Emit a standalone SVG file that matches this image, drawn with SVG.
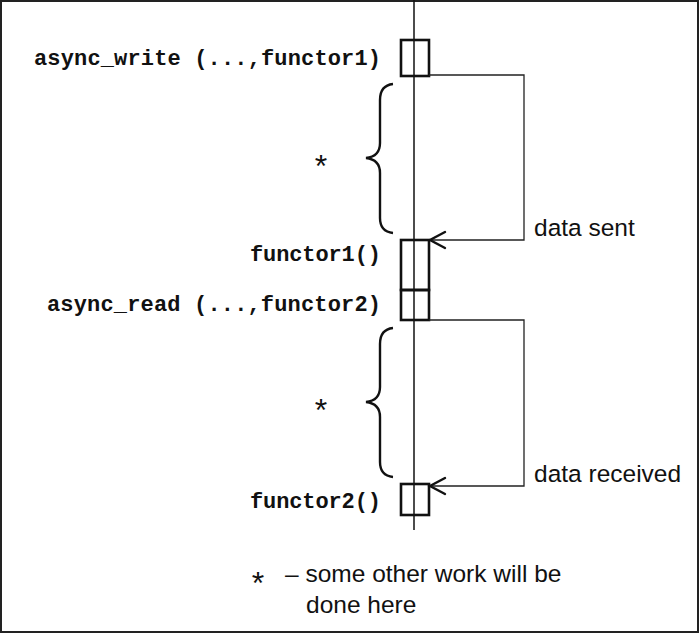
<svg xmlns="http://www.w3.org/2000/svg" width="700" height="634" viewBox="0 0 700 634">
<style>
.code{font-family:"Liberation Mono","Courier New",monospace;font-weight:bold;font-size:22px;fill:#111;text-anchor:end}
.lbl{font-family:"Liberation Sans",Arial,sans-serif;font-size:24.5px;fill:#111}
.star{font-family:"Liberation Sans",Arial,sans-serif;font-size:32px;fill:#111;text-anchor:middle}
.box{fill:none;stroke:#111;stroke-width:2.6}
.conn{fill:none;stroke:#222;stroke-width:1.3}
.head{fill:none;stroke:#111;stroke-width:2.4;stroke-linecap:round;stroke-linejoin:miter}
.brace{fill:none;stroke:#111;stroke-width:2.4}
</style>
<rect x="1" y="1" width="697" height="631" fill="#fff" stroke="#222" stroke-width="2"/>
<g id="timeline">
<line x1="414" y1="0" x2="414" y2="530" stroke="#111" stroke-width="1.5"/>
</g>
<g id="write-call">
<rect class="box" x="401" y="40" width="28" height="36"/>
<text class="code" x="381" y="65" textLength="347" lengthAdjust="spacing">async_write (...,functor1)</text>
</g>
<g id="brace1">
<path class="brace" d="M393,84 C384,85 380,90 380,100 L380,143 C380,152 375,157 366,158 C375,159 380,164 380,173 L380,218 C380,227 384,232 393,233"/>
<text class="star" x="321" y="177">*</text>
</g>
<g id="functor1">
<rect class="box" x="401" y="240" width="28" height="50"/>
<text class="code" x="381" y="261" textLength="131" lengthAdjust="spacing">functor1()</text>
</g>
<g id="read-call">
<rect class="box" x="401" y="290" width="28" height="30"/>
<text class="code" x="381" y="311" textLength="334" lengthAdjust="spacing">async_read (...,functor2)</text>
</g>
<g id="brace2">
<path class="brace" d="M393,328 C384,329 380,334 380,344 L380,387 C380,396 375,401 366,402 C375,403 380,408 380,417 L380,462 C380,471 384,476 393,477"/>
<text class="star" x="321" y="421">*</text>
</g>
<g id="functor2">
<rect class="box" x="401" y="484" width="28" height="31"/>
<text class="code" x="381" y="508" textLength="131" lengthAdjust="spacing">functor2()</text>
</g>
<g id="connectors">
<polyline class="conn" points="429,75 524,75 524,240 430,240"/>
<polyline class="head" points="445,232 430,240 445,248"/>
<text class="lbl" x="534" y="236">data sent</text>
<polyline class="conn" points="429,320 524,320 524,486 430,486"/>
<polyline class="head" points="445,478 430,486 445,494"/>
<text class="lbl" x="534" y="482">data received</text>
</g>
<g id="legend">
<text class="star" x="258" y="594">*</text>
<text class="lbl" x="285" y="582">– some other work will be</text>
<text class="lbl" x="306" y="613">done here</text>
</g>
</svg>
